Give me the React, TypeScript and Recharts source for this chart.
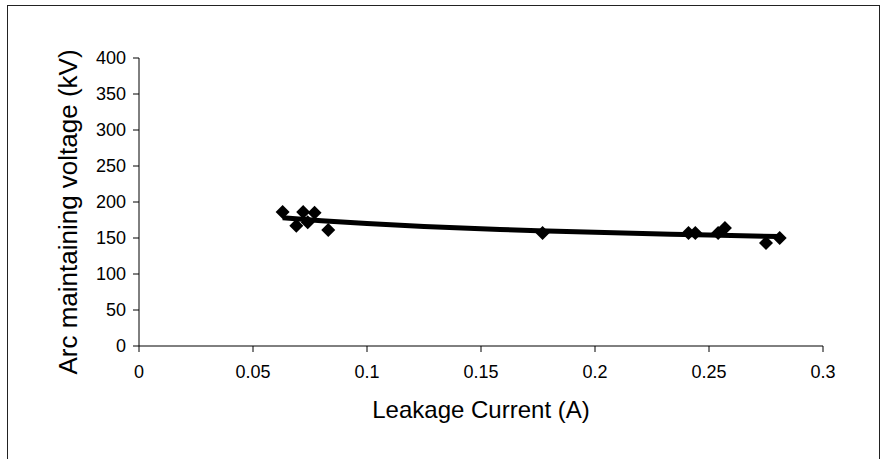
import {
  ComposedChart,
  Line,
  Scatter,
  XAxis,
  YAxis,
  Label,
} from 'recharts';

// measured points: leakage current (A) vs arc maintaining voltage (kV)
const currentA: number[] = [
  0.063, 0.069, 0.072, 0.074, 0.077, 0.083, 0.177, 0.241, 0.244, 0.254, 0.257,
  0.275, 0.281,
];
const voltageKV: number[] = [
  186, 167, 186, 172, 185, 161, 157, 157, 157, 157, 164, 143, 150,
];

// trend line
const trendX: number[] = [0.063, 0.08, 0.1, 0.125, 0.15, 0.175, 0.2, 0.225, 0.25, 0.281];
const trendY: number[] = [178, 174, 170, 166, 163, 160, 158, 156, 154, 152];

const xTicks: number[] = [0, 0.05, 0.1, 0.15, 0.2, 0.25, 0.3];
const yTicks: number[] = [0, 50, 100, 150, 200, 250, 300, 350, 400];

const points = currentA.map((x, i) => ({ x, y: voltageKV[i] }));
const trend = trendX.map((x, i) => ({ x, y: trendY[i] }));

const font = '"Liberation Sans", Arial, sans-serif';
const tickStyle = { fill: '#000', fontSize: 18, fontFamily: font };

function Diamond(props: any) {
  const { cx, cy } = props;
  const r = 7;
  return (
    <polygon
      points={`${cx},${cy - r} ${cx + r},${cy} ${cx},${cy + r} ${cx - r},${cy}`}
      fill="#000"
    />
  );
}

export default function App() {
  return (
    <div
      style={{
        position: 'absolute',
        left: 0,
        top: 0,
        width: 881,
        height: 459,
        background: '#fff',
        overflow: 'hidden',
      }}
    >
      <div
        style={{
          position: 'absolute',
          left: 7,
          top: 5,
          width: 871,
          height: 470,
          border: '1px solid #222',
        }}
      />
      <div style={{ position: 'absolute', left: 0, top: 0 }}>
        <ComposedChart
          width={881}
          height={459}
          margin={{ top: 58, right: 58, bottom: 33, left: 0 }}
        >
          <XAxis
            dataKey="x"
            type="number"
            domain={[0, 0.3]}
            ticks={xTicks}
            interval={0}
            height={80}
            tickSize={6}
            tickMargin={13}
            stroke="#000"
            tick={tickStyle}
            allowDataOverflow
          >
            <Label
              value="Leakage Current (A)"
              position="insideBottom"
              offset={8}
              style={{ fill: '#000', fontSize: 24, fontFamily: font }}
            />
          </XAxis>
          <YAxis
            dataKey="y"
            type="number"
            domain={[0, 400]}
            ticks={yTicks}
            interval={0}
            width={139}
            tickSize={6}
            tickMargin={7}
            stroke="#000"
            tick={tickStyle}
            allowDataOverflow
          >
            <Label
              content={() => (
                <text
                  x={68}
                  y={212}
                  transform="rotate(-90 68 212)"
                  textAnchor="middle"
                  dominantBaseline="central"
                  style={{ fill: '#000', fontSize: 26, fontFamily: font }}
                >
                  Arc maintaining voltage (kV)
                </text>
              )}
            />
          </YAxis>
          <Line
            data={trend}
            dataKey="y"
            type="monotone"
            stroke="#000"
            strokeWidth={5}
            dot={false}
            activeDot={false}
            isAnimationActive={false}
          />
          <Scatter
            data={points}
            dataKey="y"
            shape={Diamond}
            isAnimationActive={false}
          />
        </ComposedChart>
      </div>
    </div>
  );
}
